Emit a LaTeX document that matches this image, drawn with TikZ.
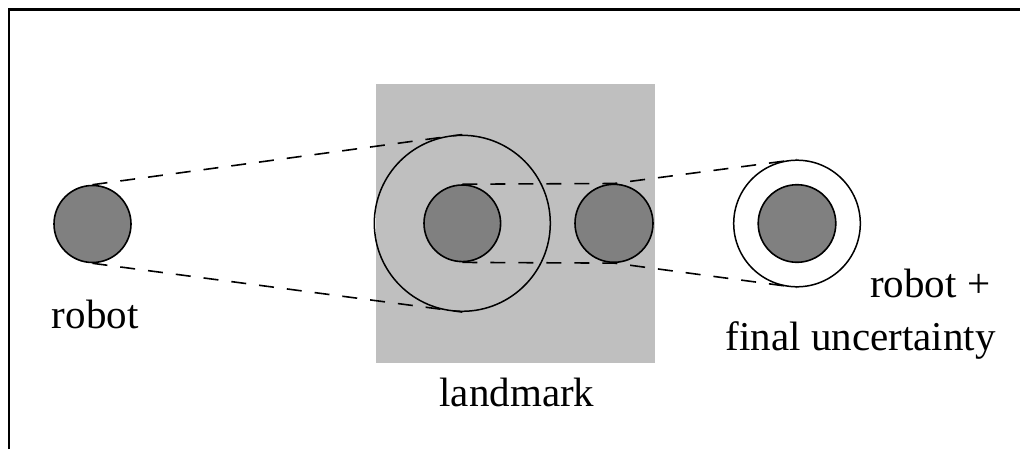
\documentclass[tikz,border=0pt]{standalone}
\usepackage{fontspec}
\setmainfont{Liberation Serif}
\begin{document}
\begin{tikzpicture}[x=0.5pt,y=-0.5pt,
  disc/.style={circle,draw=black,line width=0.8pt,fill=black!50,inner sep=0pt,minimum size=#1},
  ring/.style={circle,draw=black,line width=0.75pt,inner sep=0pt,minimum size=#1},
  link/.style={line width=0.8pt,dash pattern=on 7.5pt off 6.5pt},
  label/.style={inner sep=0pt,font=\fontsize{20.5}{25}\selectfont}]
\useasboundingbox (0,0) rectangle (1020,449);
% frame
\draw[line width=1.1pt,line join=miter] (9,449) -- (9,9.5) -- (1020,9.5);
% landmark area
\fill[black!25] (375.7,84.3) rectangle (655,363.3);
% robot and uncertainty circles
\node[disc=38.5pt] (robot) at (92.5,224) {};
\node[ring=88pt] (big) at (462.3,223.3) {};
\node[disc=38.3pt] (mid) at (462.3,223.3) {};
\node[disc=39pt] (right) at (614,223.3) {};
\node[ring=63.3pt,fill=white] (outer) at (797,223.5) {};
\node[disc=38.8pt] (fin) at (797,223.5) {};
% projection lines
\draw[link] (robot.north) -- (big.north);
\draw[link] (robot.south) -- (big.south);
\draw[link] (mid.north) -- (right.north) -- (outer.north);
\draw[link] (mid.south) -- (right.south) -- (outer.south);
% labels
\node[label,anchor=base west] (lrobot) at (51.5,328.3) {robot};
\node[label,anchor=base] (lland) at (517,406) {landmark};
\node[label,anchor=base east] (lfin1) at (990.5,297.3) {robot +};
\node[label,anchor=base east] (lfin2) at (996,350.7) {final uncertainty};
\end{tikzpicture}
\end{document}
